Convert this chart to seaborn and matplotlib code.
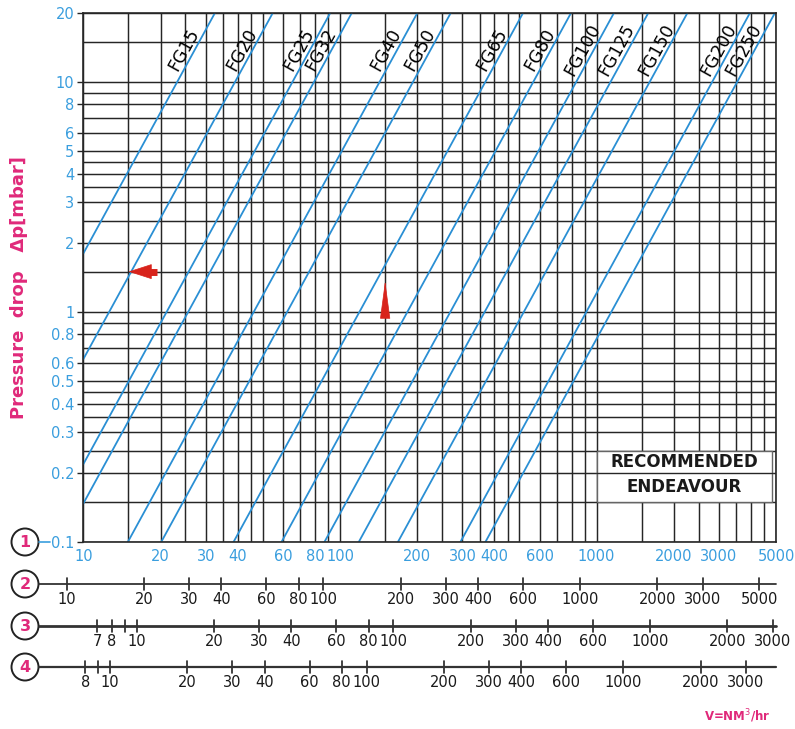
import numpy as np
import pandas as pd
import matplotlib
matplotlib.use("Agg")
import matplotlib.pyplot as plt
import matplotlib.transforms as mtrans
from matplotlib.patches import Ellipse, Rectangle
import seaborn as sns

# ---------------- data ----------------
sizes = ['FG15', 'FG20', 'FG25', 'FG32', 'FG40', 'FG50', 'FG65', 'FG80',
         'FG100', 'FG125', 'FG150', 'FG200', 'FG250']
flow_at_1mbar = [7.5, 12.6, 21.1, 25.6, 46.1, 62.2, 119, 183, 269, 366, 520, 911, 1140]
exponent = 2.04          # slope of the lines on the log-log chart

x_ticks = [10, 20, 30, 40, 60, 80, 100, 200, 300, 400, 600, 1000, 2000, 3000, 5000]
x_grid = [10, 15, 20, 25, 30, 35, 40, 45, 50, 60, 70, 80, 90, 100, 150, 200, 250, 300,
          350, 400, 450, 500, 600, 700, 800, 900, 1000, 1500, 2000, 2500, 3000, 3500,
          4000, 4500, 5000]
y_ticks = [0.1, 0.2, 0.3, 0.4, 0.5, 0.6, 0.8, 1, 2, 3, 4, 5, 6, 8, 10, 20]
y_grid = [0.1, 0.15, 0.2, 0.25, 0.3, 0.35, 0.4, 0.45, 0.5, 0.6, 0.7, 0.8, 0.9, 1, 1.5,
          2, 2.5, 3, 3.5, 4, 4.5, 5, 6, 7, 8, 9, 10, 15, 20]

scale2_ticks = [10, 20, 30, 40, 60, 80, 100, 200, 300, 400, 600, 1000, 2000, 3000, 5000]
scale3_ticks = [7, 8, 9, 10, 20, 30, 40, 60, 80, 100, 200, 300, 400, 600, 1000, 2000, 3000]
scale4_ticks = [8, 9, 10, 20, 30, 40, 60, 80, 100, 200, 300, 400, 600, 1000, 2000, 3000]
scale_factors = [1.16, 0.619, 0.787]   # reading on scale 2/3/4 relative to scale 1
unlabeled = [9]

# ---------------- style ----------------
BLUE_LINE = '#2a8fd4'
BLUE_TEXT = '#3a9ede'
MAGENTA = '#e0297a'
RED = '#d8231b'
GRID = '#262626'

sns.set_theme(style='white')
plt.rcParams['font.family'] = ['DejaVu Sans']

W, H = 795, 729
fig = plt.figure(figsize=(W / 100, H / 100), dpi=100)
fig.patch.set_facecolor('white')

L, R, T, B = 83.3, 776, 13, 542
ax = fig.add_axes([L / W, 1 - B / H, (R - L) / W, (B - T) / H])
ax.set_facecolor('white')

# blue FG lines
rows = []
for s, v1 in zip(sizes, flow_at_1mbar):
    for v in (x_grid[0], x_grid[-1]):
        rows.append({'size': s, 'flow': v, 'dp': (v / v1) ** exponent})
df = pd.DataFrame(rows)
sns.lineplot(data=df, x='flow', y='dp', units='size', estimator=None,
             color=BLUE_LINE, lw=1.3, ax=ax, legend=False, zorder=2)

ax.set_xscale('log')
ax.set_yscale('log')
ax.set_xlim(x_grid[0], x_grid[-1])
ax.set_ylim(y_grid[0], y_grid[-1])


def fmt(v):
    return ('%g' % v)


ax.set_xticks(x_ticks)
ax.set_xticklabels([fmt(v) for v in x_ticks])
ax.set_xticks(x_grid, minor=True)
ax.set_yticks(y_ticks)
ax.set_yticklabels([fmt(v) for v in y_ticks])
ax.set_yticks(y_grid, minor=True)
ax.xaxis.set_minor_formatter(matplotlib.ticker.NullFormatter())
ax.yaxis.set_minor_formatter(matplotlib.ticker.NullFormatter())
ax.grid(which='both', color=GRID, lw=1.05)
ax.set_axisbelow(True)
ax.tick_params(axis='x', which='both', length=0, pad=5, labelsize=10.5,
               labelcolor=BLUE_TEXT)
ax.tick_params(axis='y', which='major', left=True, length=4.5, width=1, color=GRID,
               pad=2, labelsize=10.5, labelcolor=BLUE_TEXT)
ax.tick_params(axis='y', which='minor', length=0)
ax.set_xlabel('')
ax.set_ylabel('')
for sp in ax.spines.values():
    sp.set_color(GRID)
    sp.set_linewidth(1.2)

# FG labels
lab_dp = 13.8
for s, v1 in zip(sizes, flow_at_1mbar):
    v = v1 * lab_dp ** (1 / exponent)
    ax.annotate(s, (v, lab_dp), xytext=(-11, 0), textcoords='offset pixels',
                rotation=61, rotation_mode='anchor', ha='center', va='center',
                fontsize=12.5, color='#000000', zorder=4)

# recommended box
box = Rectangle((1000, 0.15), 4830 - 1000, 0.25 - 0.15, facecolor='white',
                edgecolor='#666666', lw=1.0, zorder=2.5)
ax.add_patch(box)
ax.plot([1000, 4830], [0.2, 0.2], color=GRID, lw=1.0, zorder=2.6)
ax.text(np.sqrt(1000 * 4830), np.sqrt(0.2 * 0.25), 'RECOMMENDED', ha='center',
        va='center', fontsize=12, fontweight='bold', color='#1a1a1a', zorder=3)
ax.text(np.sqrt(1000 * 4830), np.sqrt(0.15 * 0.2), 'ENDEAVOUR', ha='center',
        va='center', fontsize=12, fontweight='bold', color='#1a1a1a', zorder=3)

# red pointers
ax.plot([17.7, 19.4], [1.5, 1.5], color=RED, lw=5, solid_capstyle='butt', zorder=5)
ax.annotate('', xy=(15.0, 1.5), xytext=(17.9, 1.5),
            arrowprops=dict(arrowstyle='-|>,head_length=1.3,head_width=0.42',
                            color=RED, lw=0.5, shrinkA=0, shrinkB=0), zorder=5)
ax.annotate('', xy=(150, 1.37), xytext=(150, 1.02),
            arrowprops=dict(arrowstyle='-|>,head_length=2.1,head_width=0.28',
                            color=RED, lw=0.5, shrinkA=0, shrinkB=0), zorder=5)

# y label
fig.text(19 / W, 1 - 288 / H, 'Pressure  drop   \u0394p[mbar]', rotation=90,
         ha='center', va='center', fontsize=13, fontweight='bold', color=MAGENTA)

# ---------------- secondary flow scales ----------------
trans = mtrans.blended_transform_factory(ax.transData, fig.transFigure)


def fy(px):
    return 1 - px / H


circle_y = [542, 584, 626, 667]
for i, cy in enumerate(circle_y):
    fig.add_artist(Ellipse((25 / W, fy(cy)), 27 / W, 27 / H, transform=fig.transFigure,
                           facecolor='white', edgecolor='#222222', lw=1.4))
    fig.text(25 / W, fy(cy + 0.5), str(i + 1), ha='center', va='center', fontsize=11.5,
             color=MAGENTA, fontweight='bold')

# dash from circle 1 to 0.1 label
fig.add_artist(plt.Line2D([38.5 / W, 50 / W], [fy(542), fy(542)], color=BLUE_TEXT,
                          lw=1.2))

scales = [scale2_ticks, scale3_ticks, scale4_ticks]
line_w = [1.3, 2.0, 1.6]
for k, (ticks, f) in enumerate(zip(scales, scale_factors)):
    cy = circle_y[k + 1]
    fig.add_artist(plt.Line2D([38.5 / W, R / W], [fy(cy), fy(cy)], color='#333333',
                              lw=line_w[k]))
    for t in ticks:
        vmain = t / f
        ax.plot([vmain, vmain], [fy(cy - 6), fy(cy + 6)], transform=trans,
                color='#222222', lw=1.2, clip_on=False)
        if t not in unlabeled:
            ax.text(vmain, fy(cy + 8), fmt(t), transform=trans, ha='center', va='top',
                    fontsize=10.5, color='#1a1a1a', clip_on=False)

fig.text(737 / W, fy(716), 'V=NM$^3$/hr', ha='center', va='center', fontsize=8.5,
         color=MAGENTA, fontweight='bold')

fig.savefig('out.png', dpi=100, facecolor='white')
